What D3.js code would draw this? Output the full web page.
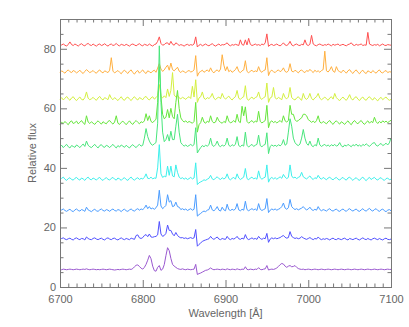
<!DOCTYPE html>
<html>
<head>
<meta charset="utf-8">
<script src="https://cdn.jsdelivr.net/npm/d3@7"></script>
<style>
  body { margin: 0; background: #fff; }
  text { font-family: "Liberation Sans", Arial, sans-serif; fill: #666; }
</style>
</head>
<body>
<div id="chart"></div>
<script>
// wavelength grid, 2 A steps
var wave = d3.range(6700, 7101, 2);

var red = [81.0,81.3,81.6,81.2,80.9,81.5,82.3,81.4,81.1,81.6,
81.3,80.9,81.4,81.7,81.2,81.0,81.5,81.8,81.3,81.1,
81.6,81.2,80.9,81.4,81.6,81.1,81.3,81.7,81.2,80.9,
81.4,81.6,81.1,81.3,81.8,81.2,81.0,81.5,81.3,81.1,
81.5,81.2,80.9,81.4,81.6,81.3,81.0,81.4,81.7,81.2,
81.0,81.5,81.3,81.1,81.6,81.2,80.9,81.4,81.6,82.5,
84.0,81.8,81.2,81.4,81.9,82.0,81.3,82.5,81.5,81.2,
82.0,81.6,81.1,81.4,81.2,80.9,81.3,81.5,81.1,81.4,
81.2,81.6,84.0,80.6,81.2,81.5,81.0,81.3,81.6,81.2,
81.0,81.4,81.7,81.2,80.9,81.3,81.6,81.1,81.4,81.3,
81.6,82.0,81.3,81.0,81.4,81.2,81.5,81.3,81.1,83.0,
81.4,81.2,83.0,81.3,83.5,81.5,81.1,81.3,81.6,81.2,
81.4,81.1,81.6,81.3,82.0,85.0,80.8,81.3,81.5,81.1,
81.3,81.6,81.2,81.0,81.4,82.0,81.3,81.1,81.5,82.5,
81.3,81.0,81.4,81.6,81.2,81.1,81.5,81.3,83.0,81.4,
81.1,81.5,84.5,81.6,81.2,81.0,81.4,81.6,81.3,81.1,
81.4,81.2,81.6,81.3,81.0,81.5,81.2,81.4,81.6,81.1,
81.3,81.5,81.2,81.0,81.4,81.6,82.0,81.3,81.1,81.5,
81.2,81.4,81.6,81.1,81.3,81.2,85.5,81.6,81.3,81.1,
81.4,81.2,81.5,81.0,81.3,81.6,81.2,81.1,81.4,81.3,
81.2];

var orange = [72.0,72.6,72.2,71.8,72.5,72.9,72.3,72.0,72.7,72.4,
71.9,72.3,72.8,72.1,71.7,72.4,73.0,72.5,72.0,72.3,
72.7,72.1,71.8,72.5,72.9,72.2,71.9,72.6,72.3,72.0,
72.8,77.0,72.5,71.9,72.3,72.7,72.1,71.6,72.4,72.8,
72.2,71.7,72.5,72.9,72.0,71.5,72.3,72.7,71.8,72.4,
72.9,72.1,71.7,72.6,72.3,71.9,72.5,72.8,72.1,73.5,
75.0,73.2,72.4,72.9,73.8,74.5,72.8,75.2,73.0,72.6,
73.2,73.8,72.5,72.0,72.6,72.3,71.9,72.5,72.7,72.2,
72.4,72.9,77.7,70.8,72.0,72.4,72.8,72.1,72.5,72.9,
72.3,73.6,72.4,71.9,72.6,72.9,72.3,73.2,78.0,74.5,
72.6,74.0,72.3,72.8,72.1,72.5,73.0,74.0,72.4,72.0,
72.6,72.9,76.0,72.4,71.9,72.5,72.8,72.2,72.6,72.3,
74.0,72.5,72.1,72.7,72.9,77.0,71.0,72.4,72.8,72.3,
72.0,72.6,72.9,72.3,72.7,73.6,72.4,72.1,72.6,75.0,
72.5,72.2,72.8,72.4,71.9,72.6,72.9,72.3,72.0,72.7,
72.4,73.1,72.5,72.0,72.8,72.3,72.6,72.1,72.7,73.0,
79.2,72.6,72.2,72.9,74.0,72.5,72.1,74.0,72.7,72.3,
72.0,72.8,72.4,71.8,72.6,73.0,72.2,71.7,72.5,72.9,
72.1,71.6,72.4,72.8,72.0,71.7,72.6,72.3,71.9,72.7,
72.2,71.8,72.5,72.9,72.1,71.9,72.4,72.7,72.0,72.3,
72.2];

var yellow = [63.0,63.6,62.8,63.4,64.0,63.2,62.7,63.5,63.9,63.1,
62.6,63.3,63.8,63.0,62.8,63.6,65.5,63.4,62.9,63.2,
63.7,63.1,62.7,63.5,64.0,63.2,62.8,63.6,63.3,62.9,
64.6,63.4,62.9,63.6,63.1,62.6,63.3,63.9,63.0,62.7,
63.5,63.8,63.1,62.6,63.4,63.9,63.2,62.8,63.6,63.3,
62.9,63.7,64.0,63.2,62.8,63.5,63.9,63.1,63.6,64.2,
68.0,64.0,63.5,64.2,63.6,66.5,64.0,66.0,72.0,64.5,
63.8,64.3,63.5,63.2,63.7,63.4,63.0,63.6,63.9,63.3,
67.4,63.8,69.6,62.0,63.5,63.9,65.5,63.4,63.0,63.6,
63.3,63.8,65.0,63.4,62.9,63.5,63.8,63.2,65.0,63.7,
63.1,63.6,64.1,63.3,62.8,63.5,63.9,66.0,63.4,63.0,
63.6,63.9,67.6,63.2,62.7,63.4,63.8,63.1,63.6,63.9,
65.5,63.4,63.0,63.6,63.9,68.5,62.0,63.5,63.8,67.0,
63.5,63.1,63.7,63.3,62.9,65.0,63.6,63.2,63.8,67.0,
63.6,63.1,62.8,63.5,63.9,63.2,62.7,65.0,63.4,63.0,
63.6,65.0,63.3,62.8,63.5,63.9,65.0,63.4,62.9,63.3,
63.8,63.2,62.7,63.5,63.9,63.1,65.0,63.6,63.0,62.6,
63.3,63.8,63.1,62.7,63.5,64.6,63.2,62.8,63.6,63.9,
63.1,62.6,63.4,63.8,63.0,62.7,63.5,63.9,63.2,62.8,
63.6,63.0,62.5,63.3,63.7,62.9,63.4,63.8,63.1,62.7,
63.0];

var green = [54.6,55.3,54.9,55.6,55.0,54.5,55.4,55.8,54.9,55.2,
55.7,54.8,55.3,55.9,55.1,54.6,57.5,55.4,54.9,55.5,
55.0,54.6,55.3,55.8,55.2,54.7,55.5,55.1,54.8,55.6,
55.9,55.2,54.7,55.4,57.5,55.0,54.6,55.3,55.7,55.1,
54.5,55.2,55.8,55.0,54.6,55.4,55.9,55.3,54.8,55.5,
55.2,55.8,58.2,55.9,57.5,55.6,55.2,55.8,56.3,62.0,
74.0,64.0,58.0,56.5,57.0,59.6,56.8,60.0,57.2,56.5,
62.0,66.0,60.0,56.8,55.9,55.4,55.8,55.2,55.6,55.3,
55.0,55.6,62.0,52.0,54.5,55.2,57.0,55.4,55.0,55.7,
55.3,57.5,55.6,55.1,55.4,57.0,55.8,55.3,55.0,55.6,
55.2,57.5,55.7,55.1,55.4,55.9,55.3,58.0,55.6,55.2,
60.7,57.5,60.5,55.6,55.0,55.5,55.9,55.2,55.7,55.4,
59.0,55.6,55.1,55.5,55.9,61.0,53.5,55.4,55.8,55.2,
55.6,55.1,55.5,55.9,55.3,57.5,55.8,55.4,55.9,61.0,
58.0,58.0,56.2,55.6,55.9,56.4,56.8,58.0,58.0,57.5,
56.2,55.8,55.3,55.7,55.2,55.9,57.5,55.4,55.0,55.6,
55.2,54.8,55.5,55.9,55.1,54.6,55.4,55.8,55.2,54.7,
55.5,55.1,54.6,55.3,55.8,55.0,54.5,55.4,55.9,55.2,
54.8,55.5,55.9,55.1,54.6,55.3,55.8,55.0,55.6,55.2,
57.0,55.5,54.9,55.6,55.1,55.8,55.3,55.7,55.2,55.6,
56.0];

var spring = [47.0,47.6,46.8,47.4,47.9,47.1,46.7,47.5,47.2,46.9,
47.7,47.3,46.8,47.5,48.0,47.2,49.0,47.6,47.1,46.8,
47.4,47.9,47.2,46.7,47.5,47.8,47.1,46.9,47.6,47.3,
46.8,47.4,47.9,47.2,46.7,47.5,47.0,47.7,47.3,46.9,
47.6,47.1,46.7,47.4,47.8,47.2,46.8,47.5,47.9,47.3,
47.6,50.0,53.2,50.5,49.0,48.0,47.6,48.1,48.5,55.0,
81.0,62.0,52.0,48.8,49.5,51.2,49.0,52.3,49.5,49.5,
54.0,58.0,52.0,48.5,47.8,47.3,47.7,47.2,47.5,47.9,
47.4,47.8,53.5,45.0,46.0,46.8,47.5,47.1,47.6,47.3,
47.8,50.0,47.6,47.2,47.8,49.0,47.5,47.1,47.7,47.3,
47.8,50.0,47.6,47.2,47.8,47.4,47.9,50.5,47.5,47.1,
47.7,47.3,52.0,47.6,47.0,47.5,47.9,47.2,47.6,47.9,
51.0,47.5,47.1,47.6,47.9,51.8,44.8,47.2,47.7,47.3,
47.6,47.2,47.8,47.4,47.9,49.5,47.6,48.0,52.0,56.5,
54.0,50.0,48.5,47.8,47.5,48.0,50.0,52.9,50.0,48.2,
47.6,49.0,47.5,47.1,47.8,47.4,50.0,47.7,47.2,47.6,
47.9,47.3,47.7,47.2,47.8,47.4,47.9,47.3,47.6,48.5,
47.4,47.0,47.7,47.3,47.9,47.5,47.1,47.8,47.4,48.0,
47.3,47.7,47.2,47.9,47.5,48.1,47.6,47.2,47.8,48.3,
48.5,47.6,47.3,47.9,48.2,47.5,47.8,48.3,47.7,48.4,
50.0];

var cyan = [36.0,36.5,36.9,36.2,35.8,36.4,36.7,36.1,35.9,36.5,
36.8,36.2,35.9,36.6,36.3,35.8,36.5,36.9,36.2,36.0,
36.6,36.3,35.9,36.5,36.8,36.1,35.8,36.4,36.7,36.2,
35.9,36.5,36.8,36.2,35.9,36.6,36.3,35.8,36.4,36.7,
36.1,35.8,36.5,36.9,36.2,35.9,36.4,36.7,36.1,36.5,
36.3,36.8,38.0,36.5,36.4,36.9,36.3,36.6,36.5,40.0,
47.8,38.0,36.8,37.2,37.0,40.6,37.5,40.6,37.3,37.0,
41.0,38.5,36.9,36.4,36.7,36.2,36.6,36.1,36.4,36.8,
36.3,36.6,41.7,34.4,35.0,35.3,35.6,36.0,35.8,36.2,
36.5,37.5,36.3,36.0,36.6,37.0,36.4,36.1,36.7,36.3,
36.6,38.0,36.4,36.0,36.5,36.8,36.2,38.0,36.6,36.1,
36.5,36.9,39.8,36.4,36.0,36.6,36.9,36.3,36.6,36.2,
39.0,36.7,36.2,36.6,36.9,41.0,35.2,36.4,36.8,36.3,
36.7,36.2,36.6,37.0,36.5,37.8,36.9,36.4,36.8,41.0,
37.3,36.6,36.9,36.4,36.8,37.1,38.5,37.0,36.6,36.3,
36.8,37.3,36.5,36.1,36.7,36.4,37.5,36.6,36.2,36.8,
36.4,36.0,36.6,36.9,36.3,36.0,36.5,36.8,36.2,35.9,
36.5,36.8,36.2,35.9,36.6,36.9,36.3,35.8,36.4,36.7,
36.1,35.8,36.5,36.9,36.2,35.7,36.4,36.8,36.1,36.5,
36.8,36.2,35.9,36.5,36.7,36.1,35.8,36.4,36.6,36.0,
36.2];

var blue = [25.5,25.9,26.2,25.7,25.4,25.8,26.1,25.6,25.3,25.9,
26.2,25.7,25.5,26.0,25.8,25.4,26.8,25.9,25.6,25.3,
25.8,26.1,25.6,25.4,25.9,26.2,25.7,25.5,26.0,25.8,
25.4,25.9,26.2,25.7,25.5,26.0,25.8,25.3,25.9,26.1,
25.6,25.4,25.9,26.2,25.7,25.5,26.0,26.3,25.8,26.2,
26.0,26.5,27.5,26.3,27.0,26.2,26.5,26.1,26.6,27.5,
32.5,27.2,26.3,26.8,27.4,31.0,28.5,29.0,27.0,27.2,
28.5,27.0,26.8,26.0,26.3,25.9,26.2,25.7,26.0,26.3,
25.8,26.1,31.0,23.8,24.3,24.7,25.2,25.5,25.3,25.8,
26.0,27.5,25.9,25.6,26.1,27.0,25.8,25.5,26.8,25.9,
25.6,27.8,26.0,25.7,26.1,25.8,26.2,28.0,25.9,25.6,
26.1,25.8,28.8,26.0,25.6,26.0,26.3,25.9,26.2,25.7,
28.0,26.1,25.7,26.0,26.3,29.7,25.0,25.8,26.2,25.9,
26.2,25.8,26.1,26.4,27.0,28.2,26.5,26.1,26.6,29.4,
27.0,26.4,26.0,26.3,25.9,26.2,26.5,27.0,26.3,25.9,
26.2,26.8,26.0,25.7,26.1,25.8,27.0,26.0,25.6,26.0,
25.8,25.5,26.0,26.3,25.7,25.5,25.9,26.2,25.6,25.4,
25.9,26.2,25.7,25.4,26.0,26.3,25.8,25.5,25.9,26.2,
25.6,25.4,25.9,26.3,25.7,25.5,26.0,26.4,25.8,25.5,
26.0,26.3,25.7,25.4,25.9,26.2,25.6,25.3,25.8,26.0,
25.6];

var indigo = [16.0,16.3,16.5,16.1,15.9,16.2,16.4,16.0,15.8,16.3,
16.5,16.1,15.9,16.3,16.2,15.8,16.8,16.3,16.0,15.9,
16.3,16.5,16.1,15.9,16.2,16.4,16.0,15.8,16.3,16.5,
16.1,15.9,16.3,16.4,16.0,15.8,16.2,16.5,16.1,15.9,
16.3,16.1,15.9,16.4,16.2,16.0,17.3,17.5,16.5,16.3,
16.6,17.3,17.6,16.9,17.8,16.8,16.7,16.9,17.0,17.5,
22.0,17.8,17.0,17.3,18.0,20.8,19.0,19.0,17.8,17.2,
18.3,17.3,16.8,16.5,16.6,16.3,16.5,16.2,16.4,16.6,
16.3,16.5,19.3,13.7,14.3,14.8,15.3,15.6,15.8,16.0,
16.2,17.0,16.3,16.0,16.4,16.8,16.1,15.9,16.3,16.1,
16.0,17.0,16.2,15.9,16.3,16.1,16.4,17.0,16.2,16.0,
16.4,16.1,17.6,16.3,15.9,16.2,16.5,16.1,16.3,16.0,
17.0,16.3,16.0,16.4,16.2,18.0,15.0,16.1,16.5,16.2,
16.5,16.2,16.4,16.6,17.0,17.3,16.7,16.4,16.6,18.6,
17.0,16.6,16.3,16.5,16.2,16.4,16.9,16.5,16.2,16.0,
16.3,16.6,16.2,15.9,16.3,16.1,16.8,16.2,15.9,16.2,
16.0,16.3,16.1,15.8,16.2,16.4,16.0,15.9,16.3,16.1,
15.9,16.2,16.4,16.0,15.8,16.3,16.1,15.9,16.2,16.4,
16.0,15.8,16.2,16.5,16.1,15.9,16.3,16.0,15.8,16.2,
16.4,16.1,15.9,16.3,16.0,15.8,16.2,16.4,16.0,15.9,
16.1];

var purple = [5.9,5.8,6.0,5.9,5.8,5.9,6.0,5.9,5.8,5.9,
6.0,5.9,5.8,5.9,6.0,5.9,6.1,5.9,5.8,5.9,
6.0,5.9,5.8,5.9,5.8,5.9,6.0,5.9,5.8,5.9,
6.0,5.9,5.8,5.7,5.8,5.9,5.8,5.9,6.0,5.9,
5.8,5.9,6.0,5.9,6.2,6.8,7.3,7.4,6.9,6.3,
6.0,6.6,7.6,9.0,10.6,9.5,7.0,5.5,5.3,6.6,
7.2,5.6,6.0,7.5,10.5,13.2,12.2,9.6,7.6,7.0,
6.6,6.2,6.0,5.9,6.1,5.9,5.8,6.0,5.9,5.8,
5.9,6.0,7.6,4.2,4.5,4.7,5.0,5.3,5.6,5.7,
6.0,6.4,6.0,5.8,5.9,6.0,5.9,5.8,6.0,5.9,
5.8,6.1,5.9,5.8,6.0,5.9,5.8,6.1,5.9,5.8,
6.0,5.9,6.8,5.9,5.8,6.0,5.9,5.8,6.0,5.9,
6.5,5.9,5.8,6.0,6.1,7.2,5.7,5.9,6.0,5.9,
6.1,6.4,6.9,7.5,7.9,7.7,7.0,6.6,7.0,7.2,
6.8,6.9,7.2,6.6,6.2,6.0,5.9,6.0,5.8,5.9,
6.0,5.9,5.8,5.9,6.0,5.9,5.8,5.9,6.0,5.9,
5.8,5.9,6.0,5.9,5.8,5.9,6.0,5.9,5.8,5.9,
6.0,5.9,5.8,5.9,6.0,5.9,5.8,5.9,6.0,5.9,
5.8,5.9,6.0,5.9,5.8,5.9,6.0,5.9,5.8,5.9,
6.0,5.9,5.8,5.9,6.0,5.9,5.8,5.9,6.0,5.9,
5.9];

var series = [red, orange, yellow, green, spring, cyan, blue, indigo, purple];
var colors = ["#ff5050", "#ffb040", "#d4f040", "#66e63c", "#48e67c", "#3cf0ec", "#4a9cff", "#5050ff", "#9a58d0"];

var xTicks = [6700, 6800, 6900, 7000, 7100];
var yTicks = [0, 20, 40, 60, 80];

var margin = {top: 19, right: 18, bottom: 40, left: 60},
    width = 409 - margin.left - margin.right,
    height = 327 - margin.top - margin.bottom;

var svg = d3.select("#chart")
  .append("svg")
    .attr("width", 409)
    .attr("height", 327)
  .append("g")
    .attr("transform", "translate(" + margin.left + "," + margin.top + ")");

var x = d3.scaleLinear().domain([6700, 7100]).range([0, width]);
var y = d3.scaleLinear().domain([0, 90]).range([height, 0]);

var minorX = d3.range(6700, 7101, 10).filter(function(d) { return d % 100 != 0 });
var minorY = d3.range(0, 91, 5).filter(function(d) { return d % 20 != 0 });

// spectra
var line = d3.line()
  .x(function(d, i) { return x(wave[i]) })
  .y(function(d) { return y(d) });

svg.selectAll(".spec")
  .data(series)
  .enter()
  .append("path")
    .attr("class", "spec")
    .attr("d", line)
    .attr("fill", "none")
    .attr("stroke", function(d, i) { return colors[i] })
    .attr("stroke-width", 1);

// axes, ticks pointing inward on all four sides
function styleAxis(g) {
  g.select(".domain").attr("stroke", "#777");
  g.selectAll("line").attr("stroke", "#777");
  g.selectAll("text").attr("fill", "#666").style("font-size", "11px")
    .style("font-family", "'Liberation Sans', Arial, sans-serif");
}

svg.append("g")
  .attr("transform", "translate(0," + height + ")")
  .call(d3.axisBottom(x).tickValues(xTicks).tickSize(-7).tickPadding(8).tickFormat(d3.format("d")))
  .call(styleAxis);
svg.append("g")
  .attr("transform", "translate(0," + height + ")")
  .call(d3.axisBottom(x).tickValues(minorX).tickSize(-3.5).tickFormat(""))
  .call(styleAxis);
svg.append("g")
  .call(d3.axisTop(x).tickValues(xTicks).tickSize(-7).tickFormat(""))
  .call(styleAxis);
svg.append("g")
  .call(d3.axisTop(x).tickValues(minorX).tickSize(-3.5).tickFormat(""))
  .call(styleAxis);

svg.append("g")
  .call(d3.axisLeft(y).tickValues(yTicks).tickSize(-7).tickPadding(4))
  .call(styleAxis);
svg.append("g")
  .call(d3.axisLeft(y).tickValues(minorY).tickSize(-3.5).tickFormat(""))
  .call(styleAxis);
svg.append("g")
  .attr("transform", "translate(" + width + ",0)")
  .call(d3.axisRight(y).tickValues(yTicks).tickSize(-7).tickFormat(""))
  .call(styleAxis);
svg.append("g")
  .attr("transform", "translate(" + width + ",0)")
  .call(d3.axisRight(y).tickValues(minorY).tickSize(-3.5).tickFormat(""))
  .call(styleAxis);

// axis titles
svg.append("text")
  .attr("text-anchor", "middle")
  .attr("x", width / 2)
  .attr("y", height + 30)
  .style("font-size", "11px")
  .text("Wavelength [Å]");

svg.append("text")
  .attr("text-anchor", "middle")
  .attr("transform", "translate(" + (-24) + "," + (height / 2) + ") rotate(-90)")
  .style("font-size", "11px")
  .text("Relative flux");
</script>
</body>
</html>
